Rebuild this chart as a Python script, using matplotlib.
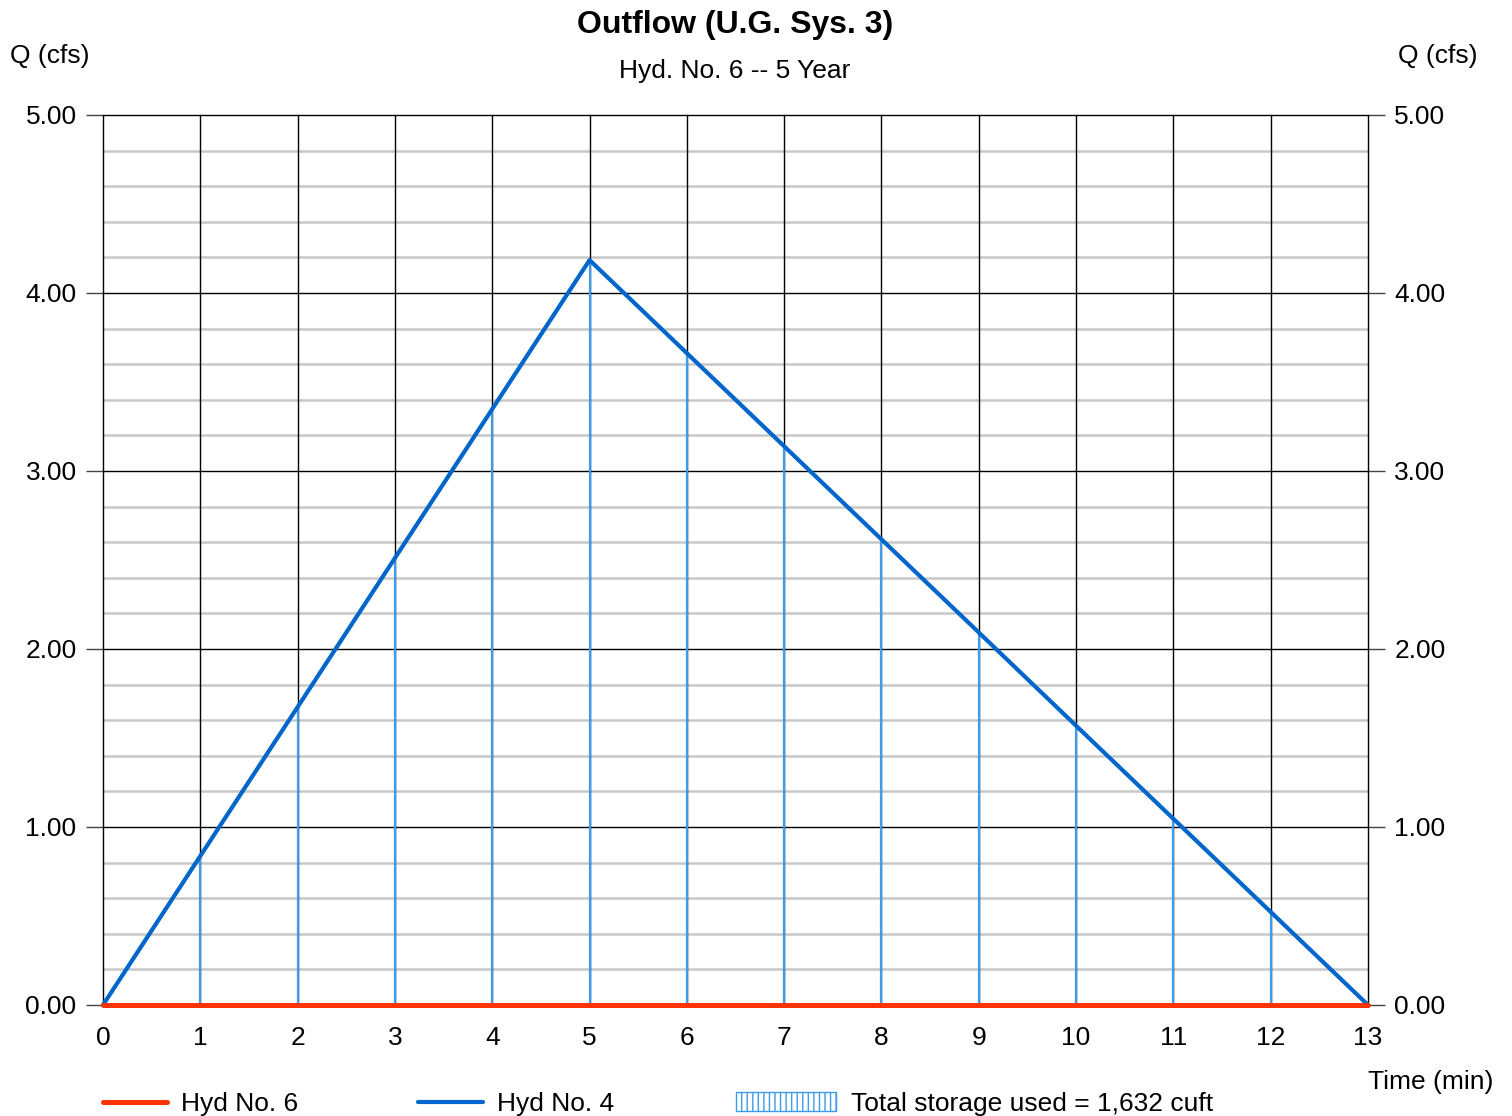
import matplotlib
matplotlib.use("Agg")
import matplotlib.pyplot as plt
from matplotlib.lines import Line2D
from matplotlib.patches import Rectangle
import numpy as np

plt.rcParams['font.family'] = ['Liberation Sans', 'DejaVu Sans']

# Data
time_min = [0, 1, 2, 3, 4, 5, 6, 7, 8, 9, 10, 11, 12, 13]
hyd4 = [0.0, 0.837, 1.674, 2.511, 3.348, 4.185, 3.662, 3.139, 2.616, 2.093, 1.569, 1.046, 0.523, 0.0]
hyd6 = [0.0] * 14
x_ticks = list(range(0, 14))
y_ticks = [0, 1, 2, 3, 4, 5]
y_ticklabels = ["0.00", "1.00", "2.00", "3.00", "4.00", "5.00"]
title = "Outflow (U.G. Sys. 3)"
subtitle = "Hyd. No. 6 -- 5 Year"
storage_label = "Total storage used = 1,632 cuft"

fig = plt.figure(figsize=(15.12, 11.16), dpi=100)
ax = fig.add_axes([103/1512, 1 - 1005/1116, (1368-103)/1512, (1005-115)/1116])

# minor gridlines
for yv in np.arange(0, 5.0001, 0.2):
    if abs(yv - round(yv)) > 1e-6:
        ax.axhline(yv, color='#c8c8c8', lw=1.8, zorder=1)
for yv in y_ticks:
    ax.axhline(yv, color='black', lw=1.0, zorder=2, clip_on=False)
for xv in x_ticks:
    ax.axvline(xv, color='black', lw=1.0, zorder=2, clip_on=False)

# storage hatch lines
ax.vlines(time_min, hyd6, hyd4, color='#3d9be9', lw=1.6, zorder=3)

ax.plot(time_min, hyd4, color='#0066cc', lw=3.0, zorder=5, solid_capstyle='round', clip_on=False)
ax.plot(time_min, hyd6, color='#ff3300', lw=3.6, zorder=6, solid_capstyle='round', clip_on=False)

ax.set_xlim(0, 13)
ax.set_ylim(0, 5)
ax.set_xticks(x_ticks)
ax.set_xticklabels([str(t) for t in x_ticks])
ax.set_yticks(y_ticks)
ax.set_yticklabels(y_ticklabels)
ax.tick_params(axis='y', which='both', direction='out', length=12, width=1, color='#444444',
               labelsize=19, left=True, right=True, labelleft=True, labelright=True, pad=7)
ax.tick_params(axis='x', length=0, labelsize=19, pad=15)
for s in ax.spines.values():
    s.set_visible(False)

fig.text(735/1512, 1 - 25/1116, title, ha='center', va='center', fontsize=23, fontweight='bold')
fig.text(735/1512, 1 - 71/1116, subtitle, ha='center', va='center', fontsize=19)
fig.text(50/1512, 1 - 56/1116, "Q (cfs)", ha='center', va='center', fontsize=19)
fig.text(1438/1512, 1 - 56/1116, "Q (cfs)", ha='center', va='center', fontsize=19)
fig.text(1431/1512, 1 - 1082/1116, "Time (min)", ha='center', va='center', fontsize=19)

# legend
ly = 1 - 1102/1116
fig.add_artist(Line2D([103/1512, 167/1512], [ly, ly], color='#ff3300', lw=3.6, solid_capstyle='round'))
fig.text(181/1512, ly - 2/1116, "Hyd No. 6", ha='left', va='center', fontsize=19)
fig.add_artist(Line2D([418/1512, 483/1512], [ly, ly], color='#0066cc', lw=3.0, solid_capstyle='round'))
fig.text(497/1512, ly - 2/1116, "Hyd No. 4", ha='left', va='center', fontsize=19)
plt.rcParams['hatch.color'] = '#3d9be9'
plt.rcParams['hatch.linewidth'] = 1.0
fig.add_artist(Rectangle((736/1512, 1 - 1111/1116), 100/1512, 19/1116, facecolor='white',
                         edgecolor='#3d9be9', hatch='|||', lw=1.0, transform=fig.transFigure))
fig.text(851/1512, ly - 2/1116, storage_label, ha='left', va='center', fontsize=19)

fig.savefig("out.png", dpi=100)
